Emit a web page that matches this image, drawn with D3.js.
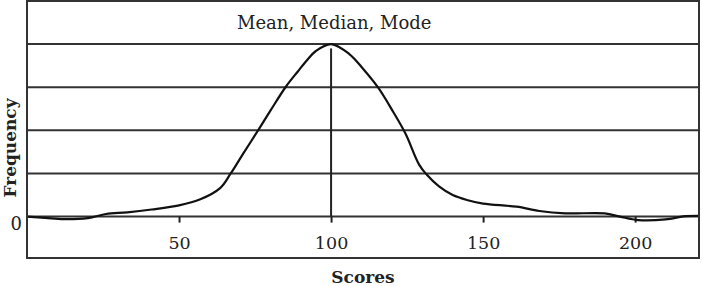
<!DOCTYPE html>
<html>
<head>
<meta charset="utf-8">
<script src="https://cdn.jsdelivr.net/npm/d3@7/dist/d3.min.js"></script>
<style>
  html, body { margin: 0; padding: 0; background: #fff; }
  svg { display: block; }
  text { font-family: "DejaVu Serif", serif; fill: #222; }
</style>
</head>
<body>
<svg id="chart" width="702" height="286"></svg>
<script>
// Data
const scores =    [0, 6, 12, 20, 26, 33, 41, 50, 57, 63.5, 67, 71, 76, 80, 85, 89, 92, 95, 100, 106, 110.5, 115.5, 120.5, 124.5, 129, 131.5, 135.5, 140, 145, 150, 161, 168.5, 177, 190, 195, 201, 210, 216.5, 221];
const frequency = [0, -0.03, -0.06, -0.035, 0.06, 0.1, 0.165, 0.26, 0.4, 0.66, 1.0, 1.45, 2.0, 2.45, 3.0, 3.36, 3.62, 3.84, 4.0, 3.77, 3.43, 2.99, 2.42, 1.92, 1.2, 0.97, 0.7, 0.5, 0.38, 0.3, 0.23, 0.13, 0.075, 0.075, 0, -0.08, -0.065, 0.01, 0.02];
const xTicks = [50, 100, 150, 200];
const gridLevels = [0, 1, 2, 3, 4];
const yTickLabels = ["0"];
const centerScore = 100;
const centerLineTop = 3.9;
const annotation = "Mean, Median, Mode";
const xTitle = "Scores";
const yTitle = "Frequency";

(function () {
const svg = d3.select("#chart");
const mL = 27, mR = 699, mT = 1, mB = 258;

const x = d3.scaleLinear().domain([0, 221]).range([mL, mR]);
const y = d3.scaleLinear().domain([-0.96, 5]).range([mB, mT]);

// Gridlines (including baseline at 0)
svg.append("g").selectAll("line").data(gridLevels).join("line")
  .attr("x1", mL).attr("x2", mR)
  .attr("y1", d => y(d)).attr("y2", d => y(d))
  .attr("stroke", "#333").attr("stroke-width", 2);

// X axis ticks at baseline
const xAxis = d3.axisBottom(x).tickValues(xTicks).tickSize(6).tickPadding(14).tickFormat(d3.format("d"));
const gx = svg.append("g").attr("transform", `translate(0,${y(0)})`).call(xAxis);
gx.select(".domain").remove();
gx.selectAll(".tick line").attr("stroke", "#222").attr("stroke-width", 2);
gx.selectAll(".tick text").attr("font-family", "DejaVu Serif").attr("font-size", 17.5).attr("fill", "#222");

// Y label "0"
svg.append("g").selectAll("text").data(yTickLabels).join("text")
  .attr("x", 22).attr("y", y(0) + 13)
  .attr("text-anchor", "end")
  .attr("font-size", 18)
  .text(d => d);

// Center line
svg.append("line")
  .attr("x1", x(centerScore)).attr("x2", x(centerScore))
  .attr("y1", y(centerLineTop)).attr("y2", y(0))
  .attr("stroke", "#222").attr("stroke-width", 2);

// Curve
const pts = scores.map((s, i) => [s, frequency[i]]);
const line = d3.line().x(d => x(d[0])).y(d => y(d[1])).curve(d3.curveCatmullRom.alpha(0.5));
svg.append("path").datum(pts)
  .attr("d", line)
  .attr("fill", "none").attr("stroke", "#111").attr("stroke-width", 2.2)
  .attr("stroke-linejoin", "round");

// Frame
svg.append("rect")
  .attr("x", mL).attr("y", mT)
  .attr("width", mR - mL).attr("height", mB - mT)
  .attr("fill", "none").attr("stroke", "#333").attr("stroke-width", 2);

// Annotation
svg.append("text")
  .attr("x", 237).attr("y", 29)
  .attr("font-size", 18)
  .text(annotation);

// Axis titles
svg.append("text")
  .attr("x", (mL + mR) / 2).attr("y", 283)
  .attr("text-anchor", "middle")
  .attr("font-size", 17).attr("font-weight", "bold")
  .text(xTitle);

svg.append("text")
  .attr("transform", `translate(15.5,148) rotate(-90)`)
  .attr("text-anchor", "middle")
  .attr("font-size", 17).attr("font-weight", "bold")
  .text(yTitle);
})();
</script>
</body>
</html>
